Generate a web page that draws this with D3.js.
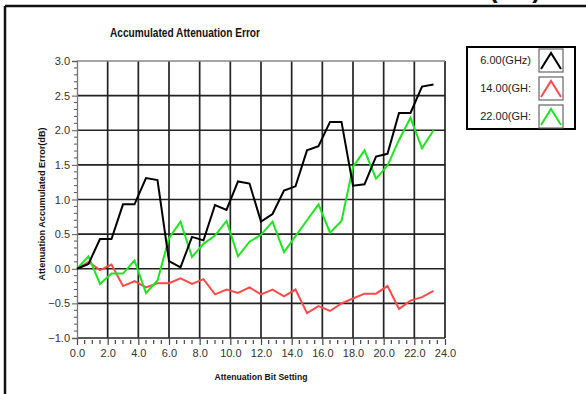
<!DOCTYPE html>
<html>
<head>
<meta charset="utf-8">
<script src="https://cdn.jsdelivr.net/npm/d3@7"></script>
<style>
  html, body { margin: 0; padding: 0; background: #fff; }
  svg { display: block; }
  text { font-family: "Liberation Sans", Arial, sans-serif; }
</style>
</head>
<body>
<script>
// Attenuation bit settings (dB)
const bitSettings = [0, 0.75, 1.5, 2.25, 3, 3.75, 4.5, 5.25, 6, 6.75, 7.5, 8.25,
  9, 9.75, 10.5, 11.25, 12, 12.75, 13.5, 14.25, 15, 15.75, 16.5, 17.25,
  18, 18.75, 19.5, 20.25, 21, 21.75, 22.5, 23.25];

// Accumulated attenuation error per frequency (dB)
const err6GHz = [0, 0.07, 0.43, 0.43, 0.93, 0.93, 1.31, 1.28, 0.11, 0.02, 0.46, 0.41,
  0.92, 0.85, 1.26, 1.23, 0.68, 0.79, 1.13, 1.19, 1.71, 1.77, 2.12, 2.12,
  1.20, 1.22, 1.62, 1.66, 2.25, 2.25, 2.63, 2.66];
const err14GHz = [0, 0.10, -0.02, 0.06, -0.25, -0.18, -0.27, -0.21, -0.21, -0.14, -0.22, -0.15,
  -0.37, -0.30, -0.35, -0.27, -0.37, -0.30, -0.40, -0.30, -0.64, -0.54, -0.61, -0.50,
  -0.43, -0.36, -0.36, -0.25, -0.58, -0.46, -0.41, -0.32];
const err22GHz = [0, 0.18, -0.22, -0.07, -0.07, 0.12, -0.35, -0.17, 0.44, 0.68, 0.17, 0.36,
  0.48, 0.69, 0.18, 0.39, 0.49, 0.68, 0.24, 0.47, 0.70, 0.93, 0.52, 0.69,
  1.47, 1.71, 1.30, 1.49, 1.86, 2.18, 1.74, 2.00];

const seriesNames = ["6.00(GHz)", "14.00(GH:", "22.00(GH:"];
const seriesColors = ["#000000", "#ff4a4a", "#1ee61e"];
const xTicks = [0, 2, 4, 6, 8, 10, 12, 14, 16, 18, 20, 22, 24];
const yTicks = [-1.0, -0.5, 0.0, 0.5, 1.0, 1.5, 2.0, 2.5, 3.0];

const W = 586, H = 394;
const svg = d3.select("body").append("svg").attr("width", W).attr("height", H);

// outer panel frame
svg.append("line").attr("x1", 5).attr("x2", W).attr("y1", 6).attr("y2", 6)
  .attr("stroke", "#111").attr("stroke-width", 2.5);
svg.append("line").attr("x1", 5).attr("x2", 5).attr("y1", 6).attr("y2", H)
  .attr("stroke", "#111").attr("stroke-width", 2.5);
// unit caption of the panel above, running off the top edge
svg.append("text").attr("x", 515).attr("y", -2).attr("text-anchor", "middle")
  .attr("font-size", 26).attr("font-weight", "bold").attr("fill", "#111").text("(dB)");

const x = d3.scaleLinear().domain([0, 24]).range([77, 445]);
const y = d3.scaleLinear().domain([-1, 3]).range([338, 61]);

// grid
const grid = svg.append("g");
grid.selectAll("line.v").data(xTicks.slice(1)).join("line")
  .attr("x1", d => x(d)).attr("x2", d => x(d)).attr("y1", y(3)).attr("y2", y(-1))
  .attr("stroke", "#222").attr("stroke-width", 1.7);
grid.selectAll("line.h").data(yTicks).join("line")
  .attr("x1", x(0)).attr("x2", x(24)).attr("y1", d => y(d)).attr("y2", d => y(d))
  .attr("stroke", d => d === 3 ? "#888" : "#222").attr("stroke-width", 1.7);

// y axis
const yAxis = d3.axisLeft(y).tickValues(yTicks).tickFormat(d3.format(".1f")).tickSize(5).tickPadding(2);
const gy = svg.append("g").attr("transform", `translate(${x(0)},0)`).call(yAxis);
gy.select(".domain").attr("stroke", "#777").attr("stroke-width", 1.3);
gy.selectAll(".tick line").attr("stroke", "#555");
gy.selectAll(".tick text").attr("font-size", 11).attr("fill", "#333")
  .attr("font-family", "'Liberation Sans', Arial, sans-serif");
const yMinor = d3.range(-10, 31).map(v => v / 10).filter(v => Math.abs(v * 2 - Math.round(v * 2)) > 1e-6);
svg.append("g").selectAll("line").data(yMinor).join("line")
  .attr("x1", x(0) - 3).attr("x2", x(0)).attr("y1", d => y(d)).attr("y2", d => y(d))
  .attr("stroke", "#555");

// x axis
const xAxis = d3.axisBottom(x).tickValues(xTicks).tickFormat(d3.format(".1f")).tickSize(6).tickPadding(4);
const gx = svg.append("g").attr("transform", `translate(0,${y(-1) + 1})`).call(xAxis);
gx.select(".domain").remove();
gx.selectAll(".tick line").attr("stroke", "#444").attr("stroke-width", 1.2);
gx.selectAll(".tick text").attr("font-size", 11).attr("fill", "#333")
  .attr("font-family", "'Liberation Sans', Arial, sans-serif");
const xMinor = d3.range(1, 48, 1).map(v => v / 2).filter(v => v % 2 !== 0);
svg.append("g").selectAll("line").data(xMinor).join("line")
  .attr("x1", d => x(d)).attr("x2", d => x(d)).attr("y1", y(-1) + 2).attr("y2", y(-1) + 6)
  .attr("stroke", "#444").attr("stroke-width", 1.2);

// series
const allSeries = [err6GHz, err14GHz, err22GHz];
const line = d3.line().x((d, i) => x(bitSettings[i])).y(d => y(d));
const order = [1, 2, 0];
svg.append("g").selectAll("path").data(order).join("path")
  .attr("d", k => line(allSeries[k]))
  .attr("fill", "none").attr("stroke", k => seriesColors[k])
  .attr("stroke-width", 2).attr("stroke-linejoin", "miter");

// titles
svg.append("text").attr("x", 185).attr("y", 37).attr("text-anchor", "middle")
  .attr("font-size", 12.5).attr("font-weight", "bold").attr("fill", "#111")
  .attr("textLength", 150).attr("lengthAdjust", "spacingAndGlyphs")
  .text("Accumulated Attenuation Error");
svg.append("text").attr("x", 261).attr("y", 380).attr("text-anchor", "middle")
  .attr("font-size", 9).attr("font-weight", "bold").attr("fill", "#111")
  .attr("textLength", 93).attr("lengthAdjust", "spacingAndGlyphs")
  .text("Attenuation Bit Setting");
svg.append("text").attr("transform", "translate(45,204) rotate(-90)").attr("text-anchor", "middle")
  .attr("font-size", 9).attr("fill", "#111").attr("font-weight", "bold")
  .attr("textLength", 153).attr("lengthAdjust", "spacingAndGlyphs")
  .text("Attenuation Accumulated Error(dB)");

// legend
const lg = svg.append("g");
lg.append("rect").attr("x", 467).attr("y", 47).attr("width", 108).attr("height", 82)
  .attr("fill", "#fff").attr("stroke", "#000").attr("stroke-width", 2);
const rowY = [60, 88, 116];
seriesNames.forEach((name, i) => {
  lg.append("text").attr("x", 531).attr("y", rowY[i] + 4).attr("text-anchor", "end")
    .attr("font-size", 11).attr("fill", "#222")
    .attr("font-family", "'Liberation Sans Narrow', 'Liberation Sans', sans-serif")
    .text(name);
  const bx = 539, by = rowY[i] - 11;
  lg.append("rect").attr("x", bx).attr("y", by).attr("width", 24).attr("height", 23)
    .attr("fill", "#fff").attr("stroke", "#666").attr("stroke-width", 1.2);
  lg.append("path").attr("d", `M${bx + 2},${by + 20} L${bx + 12},${by + 4} L${bx + 22},${by + 20}`)
    .attr("fill", "none").attr("stroke", seriesColors[i]).attr("stroke-width", 2);
});
</script>
</body>
</html>
